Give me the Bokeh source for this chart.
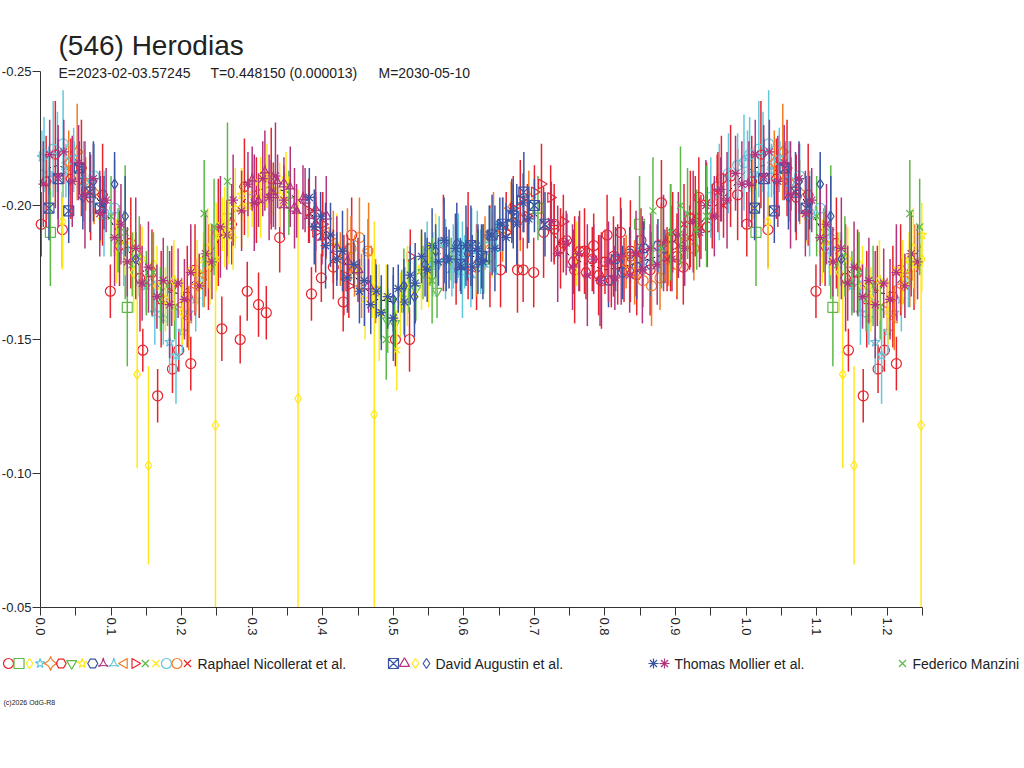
import numpy as np
from bokeh.plotting import figure
from bokeh.models import Range1d, FixedTicker, NumeralTickFormatter
from bokeh.core.properties import value
from bokeh.embed import file_html
from bokeh.resources import INLINE

RED = "#e8222b"
GREEN = "#5cb946"
YELLOW = "#ffe81a"
CYAN = "#63c7dc"
ORANGE = "#f47b20"
BLUE = "#3a54a5"
MAGENTA = "#b2347e"
INK = "#222222"
FONT = "Liberation Sans"

title = "(546) Herodias"
sub_e = "E=2023-02-03.57245"
sub_t = "T=0.448150 (0.000013)"
sub_m = "M=2030-05-10"
copyright = "(c)2026 OdG-R8"

x_ticks = [0.0, 0.1, 0.2, 0.3, 0.4, 0.5, 0.6, 0.7, 0.8, 0.9, 1.0, 1.1, 1.2]
x_minor = [0.05, 0.15, 0.25, 0.35, 0.45, 0.55, 0.65, 0.75, 0.85, 0.95, 1.05, 1.15, 1.25]
y_ticks = [-0.25, -0.20, -0.15, -0.10, -0.05]

# fitted curve (black dashed), phase 0..1
fit_ph = [0.000, 0.025, 0.050, 0.075, 0.100, 0.125, 0.150, 0.175, 0.200, 0.225,
          0.250, 0.275, 0.300, 0.325, 0.350, 0.375, 0.400, 0.425, 0.450, 0.475,
          0.500, 0.525, 0.550, 0.575, 0.600, 0.625, 0.650, 0.675, 0.700, 0.725,
          0.750, 0.775, 0.800, 0.825, 0.850, 0.875, 0.900, 0.925, 0.950, 0.975, 1.000]
fit_mag = [-0.213, -0.215, -0.212, -0.205, -0.194, -0.183, -0.174, -0.168, -0.167, -0.174,
           -0.186, -0.198, -0.205, -0.207, -0.205, -0.200, -0.191, -0.181, -0.172, -0.165,
           -0.164, -0.171, -0.180, -0.183, -0.181, -0.181, -0.189, -0.196, -0.197, -0.190,
           -0.181, -0.178, -0.176, -0.177, -0.179, -0.181, -0.184, -0.190, -0.198, -0.205, -0.213]

# Raphael Nicollerat et al. (18 sessions)
rn01_ph = [0.001, 0.031, 0.099, 0.145, 0.166, 0.187, 0.196, 0.213, 0.257, 0.283, 0.293, 0.309,
           0.320, 0.339, 0.384, 0.398, 0.415, 0.429, 0.441, 0.503, 0.523, 0.652, 0.676, 0.684,
           0.699, 0.741, 0.784, 0.803, 0.822, 0.851, 0.880, 0.911, 0.933, 0.959, 0.965,
           0.571, 0.589, 0.606, 0.618, 0.637, 0.713, 0.728, 0.757, 0.771, 0.795, 0.812,
           0.836, 0.864, 0.893, 0.902, 0.921, 0.945, 0.978, 0.988]
rn01_mag = [-0.193, -0.191, -0.168, -0.146, -0.129, -0.139, -0.146, -0.141, -0.154, -0.150, -0.168, -0.163,
            -0.160, -0.188, -0.167, -0.173, -0.177, -0.164, -0.189, -0.150, -0.150, -0.176, -0.176, -0.176,
            -0.175, -0.186, -0.185, -0.189, -0.190, -0.187, -0.201, -0.177, -0.203, -0.207, -0.210,
            -0.186, -0.178, -0.185, -0.177, -0.181, -0.190, -0.193, -0.176, -0.183, -0.172, -0.181,
            -0.183, -0.176, -0.188, -0.181, -0.195, -0.192, -0.211, -0.204]
rn01_err = [0.012, 0.014, 0.010, 0.008, 0.010, 0.009, 0.008, 0.010, 0.012, 0.009, 0.011, 0.012,
            0.010, 0.013, 0.010, 0.009, 0.012, 0.011, 0.014, 0.010, 0.012, 0.014, 0.016, 0.012,
            0.013, 0.011, 0.012, 0.015, 0.013, 0.012, 0.016, 0.014, 0.015, 0.012, 0.016,
            0.018, 0.015, 0.020, 0.016, 0.019, 0.017, 0.015, 0.020, 0.016, 0.018, 0.015,
            0.019, 0.017, 0.020, 0.016, 0.018, 0.015, 0.019, 0.017]

rn02_ph = [0.014, 0.123, 0.265, 0.352, 0.515, 0.628, 0.705, 0.849]
rn02_mag = [-0.190, -0.162, -0.195, -0.201, -0.168, -0.180, -0.199, -0.193]
rn02_err = [0.020, 0.022, 0.014, 0.012, 0.016, 0.013, 0.012, 0.018]

rn03_ph = [0.010, 0.031, 0.085, 0.108, 0.137, 0.160, 0.248, 0.300, 0.365, 0.420, 0.473, 0.540, 0.640, 0.760]
rn03_mag = [-0.207, -0.194, -0.196, -0.183, -0.137, -0.178, -0.118, -0.204, -0.128, -0.185, -0.122, -0.177, -0.185, -0.182]
rn03_err = [0.012, 0.018, 0.010, 0.012, 0.035, 0.012, 0.068, 0.012, 0.078, 0.012, 0.072, 0.012, 0.012, 0.012]

rn04_ph = [0.002, 0.012, 0.024, 0.036, 0.048, 0.150, 0.162, 0.174, 0.183, 0.192, 0.201, 0.210, 0.220, 0.230, 0.240]
rn04_mag = [-0.218, -0.212, -0.220, -0.213, -0.216, -0.170, -0.160, -0.158, -0.149, -0.144, -0.153, -0.160, -0.165, -0.172, -0.179]
rn04_err = [0.010, 0.008, 0.015, 0.010, 0.008, 0.010, 0.012, 0.010, 0.012, 0.018, 0.008, 0.010, 0.012, 0.010, 0.010]

rn05_ph = [0.040, 0.052, 0.064, 0.076, 0.605, 0.618, 0.630, 0.642, 0.655, 0.667, 0.680, 0.692]
rn05_mag = [-0.216, -0.220, -0.208, -0.205, -0.183, -0.178, -0.186, -0.190, -0.191, -0.199, -0.195, -0.203]
rn05_err = [0.012, 0.018, 0.010, 0.012, 0.010, 0.012, 0.010, 0.015, 0.012, 0.010, 0.012, 0.010]

rn06_ph = [0.008, 0.021, 0.043, 0.058, 0.071, 0.088, 0.112, 0.128, 0.141, 0.158,
           0.171, 0.186, 0.208, 0.219, 0.238, 0.252, 0.271, 0.289, 0.306, 0.327,
           0.728, 0.737, 0.746, 0.755, 0.764, 0.773, 0.782, 0.791, 0.800, 0.809,
           0.818, 0.827, 0.836, 0.845, 0.854]
rn06_mag = [-0.209, -0.219, -0.210, -0.214, -0.203, -0.204, -0.185, -0.186, -0.173, -0.175,
            -0.165, -0.170, -0.166, -0.176, -0.177, -0.190, -0.193, -0.207, -0.202, -0.210,
            -0.191, -0.184, -0.187, -0.179, -0.183, -0.175, -0.180, -0.174, -0.179, -0.172,
            -0.178, -0.176, -0.181, -0.174, -0.182]
rn06_err = [0.017, 0.020, 0.015, 0.018, 0.016, 0.019, 0.015, 0.017, 0.020, 0.016,
            0.018, 0.015, 0.019, 0.017, 0.016, 0.020, 0.015, 0.018, 0.016, 0.019,
            0.012, 0.015, 0.010, 0.012, 0.015, 0.010, 0.012, 0.015, 0.012, 0.010,
            0.015, 0.012, 0.010, 0.015, 0.012]

rn07_ph = [0.482, 0.492, 0.502, 0.512, 0.522, 0.532, 0.542, 0.552, 0.562, 0.572, 0.582, 0.592]
rn07_mag = [-0.160, -0.157, -0.156, -0.168, -0.170, -0.169, -0.175, -0.178, -0.168, -0.186, -0.180, -0.184]
rn07_err = [0.010, 0.012, 0.010, 0.008, 0.010, 0.012, 0.010, 0.008, 0.010, 0.010, 0.008, 0.010]

rn08_ph = [0.222, 0.231, 0.240, 0.249, 0.258, 0.267, 0.276, 0.285, 0.294, 0.303, 0.312, 0.321, 0.330, 0.339, 0.348]
rn08_mag = [-0.175, -0.180, -0.178, -0.189, -0.193, -0.190, -0.199, -0.204, -0.200, -0.209, -0.203, -0.211, -0.206, -0.204, -0.210]
rn08_err = [0.012, 0.010, 0.015, 0.012, 0.010, 0.012, 0.015, 0.010, 0.012, 0.010, 0.015, 0.012, 0.010, 0.012, 0.010]

rn09_ph = [0.805, 0.815, 0.825, 0.835, 0.845, 0.855, 0.865, 0.875, 0.885, 0.895]
rn09_mag = [-0.172, -0.180, -0.175, -0.182, -0.177, -0.184, -0.178, -0.185, -0.181, -0.188]
rn09_err = [0.010, 0.012, 0.010, 0.010, 0.012, 0.010, 0.012, 0.010, 0.010, 0.012]

rn10_ph = [0.300, 0.309, 0.318, 0.327, 0.336, 0.345, 0.354, 0.363, 0.372, 0.381, 0.390, 0.399]
rn10_mag = [-0.210, -0.202, -0.213, -0.205, -0.209, -0.200, -0.207, -0.198, -0.203, -0.196, -0.199, -0.188]
rn10_err = [0.012, 0.010, 0.015, 0.012, 0.010, 0.012, 0.015, 0.010, 0.012, 0.010, 0.012, 0.010]

rn11_ph = [0.548, 0.556, 0.565, 0.574, 0.583, 0.592, 0.601, 0.610, 0.619, 0.628, 0.637, 0.646]
rn11_mag = [-0.184, -0.178, -0.186, -0.180, -0.176, -0.185, -0.179, -0.174, -0.183, -0.178, -0.187, -0.184]
rn11_err = [0.010, 0.012, 0.010, 0.015, 0.010, 0.012, 0.010, 0.012, 0.015, 0.010, 0.012, 0.010]

rn12_ph = [0.200, 0.210, 0.220, 0.232, 0.405, 0.415, 0.425, 0.435, 0.445, 0.455, 0.465, 0.475]
rn12_mag = [-0.163, -0.158, -0.170, -0.174, -0.190, -0.186, -0.180, -0.184, -0.176, -0.170, -0.183, -0.168]
rn12_err = [0.010, 0.012, 0.010, 0.012, 0.010, 0.012, 0.010, 0.015, 0.010, 0.012, 0.018, 0.012]

rn13_ph = [0.380, 0.390, 0.400, 0.415, 0.430, 0.437, 0.524, 0.660, 0.670, 0.680, 0.690, 0.700, 0.710, 0.723, 0.741]
rn13_mag = [-0.198, -0.190, -0.193, -0.181, -0.174, -0.170, -0.181, -0.190, -0.199, -0.202, -0.196, -0.205, -0.208, -0.203, -0.194]
rn13_err = [0.012, 0.015, 0.012, 0.010, 0.015, 0.012, 0.010, 0.015, 0.012, 0.015, 0.012, 0.010, 0.015, 0.012, 0.010]

rn14_ph = [0.100, 0.110, 0.120, 0.130, 0.140, 0.150, 0.160, 0.170, 0.180, 0.190]
rn14_mag = [-0.196, -0.187, -0.190, -0.178, -0.181, -0.171, -0.175, -0.165, -0.170, -0.162]
rn14_err = [0.015, 0.012, 0.025, 0.012, 0.015, 0.012, 0.015, 0.012, 0.015, 0.012]

rn15_ph = [0.450, 0.460, 0.470, 0.480, 0.490, 0.505, 0.510, 0.520, 0.530, 0.540, 0.550, 0.560]
rn15_mag = [-0.176, -0.165, -0.170, -0.160, -0.166, -0.146, -0.163, -0.170, -0.167, -0.176, -0.174, -0.182]
rn15_err = [0.012, 0.015, 0.012, 0.018, 0.012, 0.015, 0.012, 0.015, 0.012, 0.015, 0.012, 0.015]

rn16_ph = [0.005, 0.018, 0.032, 0.047, 0.061, 0.076, 0.090, 0.105, 0.118, 0.560,
           0.572, 0.585, 0.598, 0.611, 0.624, 0.950, 0.962, 0.975, 0.988, 0.997]
rn16_mag = [-0.219, -0.221, -0.223, -0.217, -0.209, -0.211, -0.197, -0.199, -0.184, -0.178,
            -0.186, -0.181, -0.176, -0.184, -0.179, -0.203, -0.205, -0.212, -0.215, -0.216]
rn16_err = [0.014, 0.018, 0.020, 0.012, 0.015, 0.012, 0.016, 0.018, 0.014, 0.012,
            0.015, 0.012, 0.018, 0.015, 0.012, 0.015, 0.018, 0.015, 0.012, 0.018]

rn17_ph = [0.440, 0.452, 0.464, 0.830, 0.842, 0.854, 0.866, 0.878, 0.890, 0.902, 0.914, 0.926]
rn17_mag = [-0.184, -0.188, -0.183, -0.179, -0.175, -0.172, -0.170, -0.173, -0.180, -0.178, -0.186, -0.184]
rn17_err = [0.012, 0.015, 0.012, 0.010, 0.012, 0.010, 0.015, 0.012, 0.010, 0.012, 0.010, 0.012]

rn18_ph = [0.880, 0.888, 0.896, 0.904, 0.912, 0.920, 0.928, 0.936, 0.944, 0.952, 0.960, 0.968]
rn18_mag = [-0.186, -0.180, -0.190, -0.185, -0.193, -0.188, -0.196, -0.192, -0.201, -0.196, -0.205, -0.200]
rn18_err = [0.015, 0.012, 0.015, 0.012, 0.015, 0.012, 0.015, 0.012, 0.015, 0.012, 0.015, 0.012]

# David Augustin et al. (4 sessions)
da01_ph = [0.012, 0.025, 0.040, 0.055, 0.070, 0.085, 0.595, 0.610, 0.625, 0.640, 0.655, 0.670, 0.685, 0.700, 0.715]
da01_mag = [-0.199, -0.210, -0.198, -0.214, -0.205, -0.199, -0.178, -0.185, -0.181, -0.189, -0.193, -0.196, -0.205, -0.200, -0.193]
da01_err = [0.012, 0.015, 0.012, 0.010, 0.015, 0.012, 0.010, 0.015, 0.012, 0.015, 0.010, 0.012, 0.015, 0.010, 0.012]

da02_ph = [0.330, 0.345, 0.360, 0.375, 0.390, 0.405, 0.420, 0.435, 0.450, 0.465]
da02_mag = [-0.204, -0.208, -0.199, -0.202, -0.193, -0.196, -0.184, -0.179, -0.176, -0.170]
da02_err = [0.012, 0.010, 0.015, 0.012, 0.010, 0.015, 0.012, 0.010, 0.012, 0.010]

da03_ph = [0.120, 0.132, 0.144, 0.153, 0.165, 0.177, 0.189, 0.201, 0.213, 0.225, 0.237, 0.249, 0.261, 0.273, 0.285]
da03_mag = [-0.186, -0.175, -0.180, -0.103, -0.170, -0.165, -0.172, -0.160, -0.176, -0.170, -0.184, -0.180, -0.192, -0.188, -0.199]
da03_err = [0.012, 0.015, 0.012, 0.037, 0.015, 0.012, 0.015, 0.012, 0.015, 0.012, 0.015, 0.012, 0.015, 0.012, 0.015]

da04_ph = [0.060, 0.075, 0.090, 0.105, 0.120, 0.135, 0.500, 0.515, 0.530, 0.545, 0.560, 0.575, 0.590, 0.605, 0.620]
da04_mag = [-0.203, -0.209, -0.201, -0.208, -0.196, -0.180, -0.165, -0.170, -0.166, -0.178, -0.183, -0.180, -0.186, -0.182, -0.179]
da04_err = [0.012, 0.015, 0.010, 0.012, 0.015, 0.010, 0.012, 0.010, 0.015, 0.012, 0.010, 0.012, 0.015, 0.010, 0.012]

# Thomas Mollier et al. (2 sessions)
tm01_ph = [0.381, 0.388, 0.397, 0.404, 0.411, 0.420, 0.428, 0.435, 0.444, 0.452,
           0.459, 0.468, 0.476, 0.483, 0.492, 0.500, 0.507, 0.516, 0.524, 0.531,
           0.540, 0.548, 0.555, 0.564, 0.572, 0.579, 0.588, 0.596, 0.603, 0.612,
           0.620, 0.627, 0.636, 0.644, 0.651, 0.660, 0.668, 0.675, 0.684, 0.692]
tm01_mag = [-0.203, -0.192, -0.196, -0.185, -0.189, -0.180, -0.183, -0.173, -0.178, -0.168,
            -0.172, -0.163, -0.168, -0.160, -0.166, -0.158, -0.169, -0.164, -0.174, -0.171,
            -0.181, -0.176, -0.185, -0.179, -0.187, -0.180, -0.184, -0.177, -0.185, -0.177,
            -0.184, -0.179, -0.189, -0.184, -0.193, -0.188, -0.198, -0.193, -0.201, -0.195]
tm01_err = [0.011, 0.014, 0.009, 0.016, 0.012, 0.010, 0.015, 0.013, 0.009, 0.012,
            0.017, 0.011, 0.010, 0.014, 0.012, 0.016, 0.009, 0.013, 0.011, 0.015,
            0.010, 0.012, 0.014, 0.009, 0.016, 0.011, 0.013, 0.010, 0.015, 0.012,
            0.009, 0.014, 0.011, 0.016, 0.010, 0.013, 0.012, 0.015, 0.011, 0.009]

tm02_ph = [0.004, 0.013, 0.025, 0.033, 0.045, 0.054, 0.063, 0.075, 0.084, 0.093,
           0.105, 0.114, 0.123, 0.135, 0.144, 0.153, 0.165, 0.174, 0.183, 0.195,
           0.204, 0.213, 0.225, 0.234, 0.243, 0.255, 0.264, 0.273, 0.285, 0.294,
           0.303, 0.315, 0.324, 0.333, 0.345,
           0.724, 0.733, 0.745, 0.754, 0.763, 0.775, 0.784, 0.793, 0.805, 0.814,
           0.823, 0.835, 0.844, 0.853, 0.865, 0.874, 0.883, 0.895, 0.904, 0.913,
           0.925, 0.934, 0.943, 0.955, 0.964, 0.973, 0.985, 0.994]
tm02_mag = [-0.208, -0.219, -0.211, -0.220, -0.209, -0.216, -0.204, -0.210, -0.197, -0.202,
            -0.188, -0.193, -0.179, -0.184, -0.171, -0.177, -0.166, -0.172, -0.163, -0.171,
            -0.165, -0.175, -0.170, -0.182, -0.179, -0.192, -0.189, -0.202, -0.198, -0.208,
            -0.201, -0.210, -0.203, -0.211, -0.202,
            -0.194, -0.182, -0.186, -0.177, -0.182, -0.174, -0.180, -0.172, -0.179, -0.173,
            -0.181, -0.174, -0.182, -0.176, -0.184, -0.178, -0.186, -0.180, -0.189, -0.184,
            -0.194, -0.190, -0.200, -0.196, -0.206, -0.202, -0.212, -0.208]
tm02_err = [0.016, 0.013, 0.019, 0.012, 0.017, 0.014, 0.020, 0.013, 0.016, 0.012,
            0.018, 0.015, 0.013, 0.019, 0.014, 0.017, 0.012, 0.016, 0.020, 0.013,
            0.015, 0.018, 0.012, 0.016, 0.014, 0.019, 0.013, 0.017, 0.015, 0.012,
            0.018, 0.014, 0.016, 0.020, 0.013,
            0.015, 0.018, 0.012, 0.016, 0.014, 0.019, 0.013, 0.017, 0.015, 0.012,
            0.018, 0.014, 0.016, 0.020, 0.013, 0.015, 0.018, 0.012, 0.016, 0.014,
            0.019, 0.013, 0.017, 0.015, 0.012, 0.018, 0.014, 0.016]

# Federico Manzini
fm01_ph = [0.232, 0.246, 0.265, 0.490, 0.555, 0.868, 0.880, 0.893, 0.907, 0.917, 0.930, 0.944]
fm01_mag = [-0.197, -0.192, -0.209, -0.150, -0.172, -0.198, -0.184, -0.190, -0.200, -0.197, -0.191, -0.196]
fm01_err = [0.020, 0.018, 0.022, 0.015, 0.016, 0.020, 0.015, 0.018, 0.022, 0.017, 0.015, 0.019]

# session table: data, colour, marker, marker angle
raphael = [
    (rn01_ph, rn01_mag, rn01_err, RED, "circle", 0),
    (rn02_ph, rn02_mag, rn02_err, GREEN, "square", 0),
    (rn03_ph, rn03_mag, rn03_err, YELLOW, "diamond", 0),
    (rn04_ph, rn04_mag, rn04_err, CYAN, "star", 0),
    (rn05_ph, rn05_mag, rn05_err, ORANGE, "square_pin", 0.785),
    (rn06_ph, rn06_mag, rn06_err, RED, "hex", 0),
    (rn07_ph, rn07_mag, rn07_err, GREEN, "inverted_triangle", 0),
    (rn08_ph, rn08_mag, rn08_err, YELLOW, "star", 0),
    (rn09_ph, rn09_mag, rn09_err, BLUE, "hex", 0),
    (rn10_ph, rn10_mag, rn10_err, MAGENTA, "triangle_pin", 0),
    (rn11_ph, rn11_mag, rn11_err, CYAN, "triangle_pin", 0),
    (rn12_ph, rn12_mag, rn12_err, ORANGE, "triangle", np.pi / 2),
    (rn13_ph, rn13_mag, rn13_err, RED, "triangle", -np.pi / 2),
    (rn14_ph, rn14_mag, rn14_err, GREEN, "x", 0),
    (rn15_ph, rn15_mag, rn15_err, YELLOW, "x", 0),
    (rn16_ph, rn16_mag, rn16_err, CYAN, "circle", 0),
    (rn17_ph, rn17_mag, rn17_err, ORANGE, "circle", 0),
    (rn18_ph, rn18_mag, rn18_err, RED, "x", 0),
]
david = [
    (da01_ph, da01_mag, da01_err, BLUE, "square_x", 0),
    (da02_ph, da02_mag, da02_err, MAGENTA, "triangle", 0),
    (da03_ph, da03_mag, da03_err, YELLOW, "diamond", 0),
    (da04_ph, da04_mag, da04_err, BLUE, "diamond", 0),
]
thomas = [
    (tm01_ph, tm01_mag, tm01_err, BLUE, "asterisk", 0),
    (tm02_ph, tm02_mag, tm02_err, MAGENTA, "asterisk", 0),
]
federico = [
    (fm01_ph, fm01_mag, fm01_err, GREEN, "x", 0),
]

# page layout: the frame fills the whole canvas, axes sit at fixed places
W, H = 1020, 764
X0, XS = 40, 705.6     # px of phase 0, px per phase unit
Y0, YS = 71, 2680.0    # px of mag -0.25, px per mag unit


def px_x(px):
    return (px - X0) / XS


def px_y(py):
    return -0.25 + (py - Y0) / YS


def wrap(ph, *cols):
    # phases up to 0.25 are shown a second time after 1.0
    ph = np.asarray(ph, dtype=float)
    again = ph <= 0.25
    out = [np.concatenate([ph, ph[again] + 1.0])]
    for c in cols:
        c = np.asarray(c, dtype=float)
        out.append(np.concatenate([c, c[again]]))
    return out


p = figure(width=W, height=H, x_range=Range1d(px_x(0), px_x(W)),
           y_range=Range1d(px_y(H), px_y(0)),
           output_backend="svg", toolbar_location=None, min_border=0)
p.grid.visible = False
p.outline_line_color = None

fx, fy = wrap(fit_ph, fit_mag)
order = np.argsort(fx)
p.line(fx[order], fy[order], line_color="black", line_dash="4 3", line_width=1)

for group in (raphael, david, thomas, federico):
    for ph, mag, err, col, mk, ang in group:
        x, y, e = wrap(ph, mag, err)
        p.segment(x, y - e, x, y + e, line_color=col, line_width=1.5)
        p.scatter(x, y, marker=mk, size=10, angle=ang, fill_color=None,
                  line_color=col, line_width=1.2)

xa = p.xaxis[0]
xa.fixed_location = -0.05
xa.bounds = (0, 1.25)
xa.ticker = FixedTicker(ticks=x_ticks, minor_ticks=x_minor)
xa.formatter = NumeralTickFormatter(format="0.0")
xa.major_label_orientation = -np.pi / 2
xa.major_label_standoff = 2
xa.major_tick_in = 0
xa.major_tick_out = 8
xa.minor_tick_in = 0
xa.minor_tick_out = 8

ya = p.yaxis[0]
ya.fixed_location = 0.0
ya.bounds = (-0.25, -0.05)
ya.ticker = FixedTicker(ticks=y_ticks)
ya.formatter = NumeralTickFormatter(format="0.00")
ya.major_label_standoff = 1
ya.major_tick_in = 0
ya.major_tick_out = 8
ya.minor_tick_in = 0
ya.minor_tick_out = 0

for ax in (xa, ya):
    ax.axis_line_color = "#333333"
    ax.major_tick_line_color = "#333333"
    ax.minor_tick_line_color = "#333333"
    ax.major_label_text_font = FONT
    ax.major_label_text_font_size = "13px"
    ax.major_label_text_color = INK

p.text([px_x(58)], [px_y(45)], text=[title], text_font=value(FONT), text_font_size="28px",
       text_color=INK, text_baseline="middle")
p.text([px_x(58), px_x(210), px_x(378)], [px_y(72)] * 3, text=[sub_e, sub_t, sub_m],
       text_font=value(FONT), text_font_size="14px", text_color=INK, text_baseline="middle")

# legend row
legend_rows = [
    (raphael, 8, 10.53, 197, "Raphael Nicollerat et al."),
    (david, 393, 11, 435, "David Augustin et al."),
    (thomas, 653, 11, 674, "Thomas Mollier et al."),
    (federico, 902, 11, 912, "Federico Manzini"),
]
for group, x0, step, tx, name in legend_rows:
    for i, (ph, mag, err, col, mk, ang) in enumerate(group):
        p.scatter([px_x(x0 + step * i)], [px_y(663)], marker=mk, size=10, angle=ang,
                  fill_color=None, line_color=col, line_width=1.2)
    p.text([px_x(tx)], [px_y(663)], text=[name], text_font=value(FONT), text_font_size="14px",
           text_color=INK, text_baseline="middle")

p.text([px_x(3)], [px_y(702)], text=[copyright], text_font=value(FONT), text_font_size="7px",
       text_color=INK, text_baseline="middle")

open("out.html", "w").write(file_html(p, INLINE))
